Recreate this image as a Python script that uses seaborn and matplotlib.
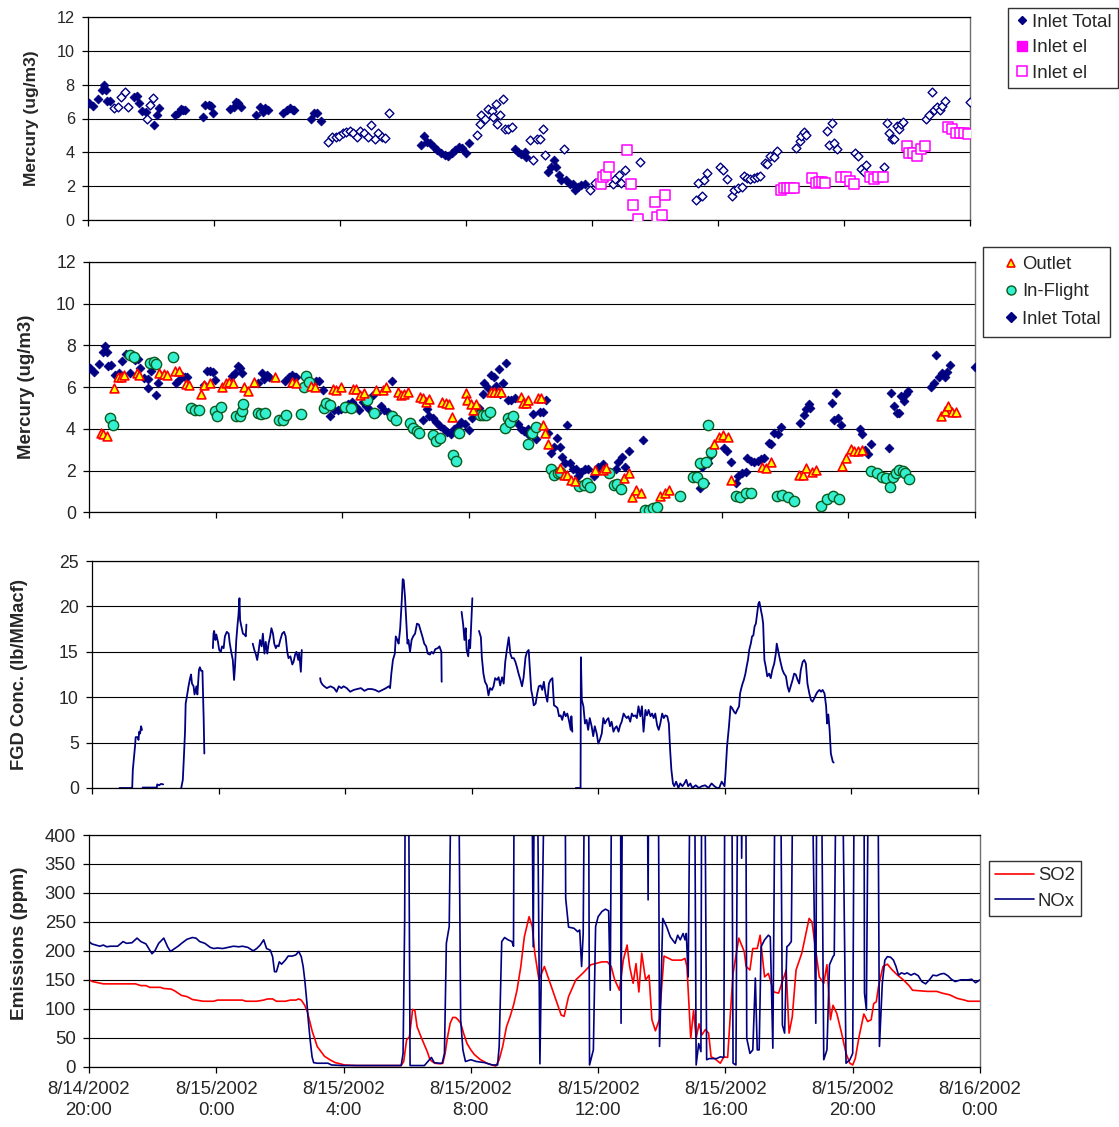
import numpy as np
import pandas as pd
import matplotlib
matplotlib.use("Agg")
import matplotlib.pyplot as plt
from matplotlib.lines import Line2D
import seaborn as sns

sns.set_style("white")
plt.rcParams['font.family'] = ['Liberation Sans', 'DejaVu Sans']

NAVY = '#000080'
MAGENTA = '#FF00FF'

# hours after 8/14/2002 20:00
tick_hours = [0, 4, 8, 12, 16, 20, 24, 28]
tick_labels = ['8/14/2002\n20:00', '8/15/2002\n0:00', '8/15/2002\n4:00', '8/15/2002\n8:00',
               '8/15/2002\n12:00', '8/15/2002\n16:00', '8/15/2002\n20:00', '8/16/2002\n0:00']

# ---- Inlet total mercury (filled / open diamonds in top panel)
inlet_fill_h = [0.03, 0.17, 0.32, 0.43, 0.51, 0.57, 0.60, 0.71, 1.45, 1.56, 1.62, 1.73, 1.85, 2.11, 2.19, 2.24,
                2.76, 2.86, 2.95, 3.03, 3.09, 3.64, 3.72, 3.83, 3.91, 3.98,
                4.51, 4.62, 4.70, 4.77, 4.85, 5.34, 5.46, 5.54, 5.62, 5.70,
                6.19, 6.31, 6.41, 6.50, 6.55, 7.09, 7.18, 7.27, 7.40,
                10.56, 10.67, 10.75, 10.86, 10.98, 11.09, 11.21, 11.32, 11.43, 11.54, 11.66, 11.77, 11.88, 12.0, 12.1,
                13.55, 13.66, 13.76, 13.87, 13.92,
                14.61, 14.71, 14.79, 14.87, 14.96, 15.03, 15.19, 15.29, 15.40, 15.45, 15.56, 15.66, 15.77]
inlet_fill_v = [6.9, 6.74, 7.13, 7.68, 7.98, 7.68, 7.03, 7.05, 7.29, 7.33, 6.94, 6.46, 6.40, 5.62, 6.20, 6.60,
                6.2, 6.34, 6.54, 6.5, 6.5, 6.1, 6.8, 6.8, 6.74, 6.34,
                6.54, 6.7, 7.0, 6.9, 6.7, 6.2, 6.66, 6.4, 6.6, 6.5,
                6.3, 6.5, 6.6, 6.5, 6.5, 6.0, 6.3, 6.3, 5.87,
                4.43, 4.97, 4.63, 4.53, 4.33, 4.14, 3.98, 3.84, 3.78, 3.98, 4.14, 4.33, 4.24, 3.94, 4.53,
                4.22, 4.02, 3.92, 4.02, 3.73,
                2.84, 3.14, 3.57, 3.14, 2.65, 2.35, 2.39, 2.10, 2.10, 1.76, 1.96, 2.06, 2.10]

inlet_open_h = [0.83, 0.94, 1.05, 1.17, 1.28, 1.87, 1.96, 2.05,
                7.63, 7.74, 7.86, 7.97, 8.08, 8.2, 8.31, 8.42, 8.54, 8.65, 8.76, 8.88, 8.99, 9.1, 9.22, 9.33, 9.44, 9.56,
                12.34, 12.44, 12.49, 12.6, 12.7, 12.81, 12.86, 12.95, 12.99, 13.08, 13.18, 13.24, 13.34, 13.45,
                14.03, 14.14, 14.24, 14.35, 14.43, 14.52, 15.11,
                15.95, 16.09, 16.24, 16.67, 16.73, 16.85, 16.93, 17.05, 17.51,
                19.3, 19.38, 19.48, 19.57, 19.66,
                20.07, 20.16, 20.28, 20.44, 20.52, 20.64, 20.76, 20.81, 20.92, 21.01, 21.13, 21.25, 21.34,
                21.48, 21.54, 21.65, 21.77, 21.86,
                22.48, 22.6, 22.65, 22.74, 22.79, 23.47, 23.53, 23.62, 23.67, 23.78,
                24.35, 24.43, 24.53, 24.62, 24.71, 25.28,
                25.35, 25.44, 25.52, 25.6, 25.67, 25.75, 25.81, 25.87,
                26.61, 26.7, 26.78, 26.86, 26.96, 27.04, 27.11, 27.2, 27.99]
inlet_open_v = [6.6, 6.66, 7.25, 7.59, 6.7, 5.95, 6.8, 7.23,
                4.63, 4.89, 4.93, 4.97, 5.12, 5.22, 5.28, 5.12, 4.93, 5.28, 5.12, 4.93, 5.62, 4.77, 5.12, 4.93, 4.83, 6.3,
                5.0, 5.69, 6.18, 5.98, 6.57, 6.47, 6.08, 6.86, 5.69, 6.18, 7.16, 5.4, 5.4, 5.5,
                4.7, 3.53, 4.8, 4.8, 5.39, 3.82, 4.18,
                1.76, 2.16, 2.31, 2.1, 2.42, 2.66, 2.2, 2.95, 3.45,
                1.18, 2.17, 1.42, 2.36, 2.76,
                3.11, 2.95, 2.4, 1.42, 1.77, 1.87, 1.93, 2.6, 2.46, 2.4, 2.46, 2.56, 2.6,
                3.35, 3.3, 3.8, 3.74, 4.1,
                4.28, 4.67, 4.98, 5.18, 5.02, 5.26, 4.43, 5.71, 4.53, 4.18,
                3.98, 3.78, 3.0, 2.82, 3.27, 3.11,
                5.71, 5.12, 4.77, 4.77, 5.56, 5.36, 5.67, 5.81,
                6.0, 6.2, 7.55, 6.5, 6.66, 6.5, 6.74, 7.05, 6.96]

# ---- Inlet elemental (open magenta squares)
inlet_el_h = [16.29, 16.35, 16.45, 16.55, 17.11, 17.23, 17.31, 17.45, 17.99, 18.07, 18.21, 18.31,
              22.0, 22.1, 22.2, 22.3, 22.42, 22.98, 23.1, 23.22, 23.31, 23.41,
              23.92, 24.06, 24.2, 24.33, 24.82, 24.94, 25.09, 25.23,
              25.99, 26.07, 26.19, 26.31, 26.44, 26.58,
              27.31, 27.44, 27.55, 27.69, 27.81, 27.93]
inlet_el_v = [2.13, 2.56, 2.66, 3.15, 4.14, 2.13, 0.89, 0.04, 1.04, 0.2, 0.3, 1.48,
              1.77, 1.87, 1.87, 1.87, 1.87, 2.46, 2.2, 2.26, 2.26, 2.2,
              2.56, 2.56, 2.33, 2.13, 2.56, 2.4, 2.56, 2.56,
              4.39, 3.98, 3.98, 3.8, 4.2, 4.37,
              5.52, 5.38, 5.16, 5.16, 5.16, 5.08]

# ---- Outlet mercury (triangles)
outlet_h = [0.37, 0.45, 0.57, 0.79, 0.91, 1.02, 1.11, 1.53, 1.59, 2.21, 2.36, 2.47, 2.72, 2.83, 3.06, 3.15,
            3.54, 3.65, 3.83, 4.19, 4.33, 4.44, 4.56, 4.9, 5.04, 5.21, 5.89, 6.4, 6.55, 7.0, 7.14,
            7.7, 7.82, 7.95, 8.33, 8.44, 8.55, 8.7, 9.07, 9.29, 9.38, 9.75, 9.86, 9.97, 10.08,
            10.45, 10.54, 10.65, 10.76, 11.16, 11.27, 11.37, 11.47, 11.9, 11.95, 12.07, 12.15, 12.24,
            12.69, 12.8, 12.91, 13.03, 13.65, 13.73, 13.82, 13.88, 14.19, 14.3, 14.36, 14.42, 14.5,
            14.89, 15.01, 15.12, 15.24, 15.36, 16.0, 16.23, 16.33, 16.91, 17.05, 17.17, 17.29, 17.43,
            18.06, 18.2, 18.32, 19.74, 19.92, 20.04, 20.19, 20.3, 21.26, 21.4, 21.56,
            22.43, 22.55, 22.67, 22.84, 22.96, 23.81, 23.93, 24.07, 24.19, 24.3, 24.42,
            26.94, 27.05, 27.15, 27.26, 27.4]
outlet_v = [3.79, 3.74, 3.66, 5.98, 6.5, 6.5, 6.57, 6.69, 6.58, 6.69, 6.63, 6.58, 6.77, 6.77, 6.15, 6.1,
            5.7, 6.1, 6.18, 6.02, 6.18, 6.26, 6.18, 6.02, 5.83, 6.26, 6.5, 6.26, 6.2, 6.06, 6.02,
            5.93, 5.86, 6.0, 5.91, 5.94, 5.63, 5.74, 5.86, 5.86, 6.02, 5.78, 5.63, 5.7, 5.78,
            5.55, 5.47, 5.27, 5.42, 5.27, 5.23, 5.2, 4.59, 5.74, 5.39, 5.2, 4.91, 5.2,
            5.78, 5.78, 5.78, 5.78, 5.55, 5.26, 5.23, 5.39, 5.47, 5.5, 4.19, 3.82, 3.28,
            2.12, 1.8, 1.8, 1.56, 1.53, 2.04, 2.04, 2.12, 1.64, 1.88, 0.73, 1.08, 0.92,
            0.8, 0.92, 1.08, 3.28, 3.63, 3.71, 3.63, 1.56, 2.2, 2.15, 2.44,
            1.8, 1.8, 2.15, 1.96, 2.04, 2.23, 2.6, 3.03, 2.95, 2.95, 3.0,
            4.62, 4.88, 5.1, 4.83, 4.83]

# ---- In-flight mercury (circles)
inflight_h = [0.66, 0.75, 1.3, 1.42, 1.93, 2.04, 2.12, 2.66,
              3.23, 3.34, 3.48, 3.97, 4.05, 4.16, 4.65, 4.76, 4.82, 4.87, 5.33, 5.44, 5.55, 6.0, 6.12, 6.23,
              6.69, 6.78, 6.86, 6.94, 7.42, 7.5, 7.61, 8.1, 8.29, 8.78, 9.01, 9.58, 9.69,
              10.14, 10.25, 10.36, 10.42, 10.88, 10.97, 11.08, 11.5, 11.61, 11.7,
              12.35, 12.45, 12.54, 12.66, 13.14, 13.23, 13.31, 13.39, 13.86, 14.0, 14.13,
              14.6, 14.71, 14.82, 14.9, 15.47, 15.63, 15.74, 15.82, 16.44, 16.58, 16.7, 16.82,
              17.58, 17.7, 17.81, 17.96, 18.69,
              19.1, 19.21, 19.3, 19.4, 19.49, 19.57, 19.65,
              20.44, 20.58, 20.77, 20.91, 21.73, 21.91, 22.08, 22.29, 23.13, 23.31, 23.51, 23.7,
              24.71, 24.89, 25.06, 25.18, 25.3, 25.42, 25.5, 25.59, 25.71, 25.8, 25.92]
inflight_v = [4.51, 4.19, 7.54, 7.43, 7.17, 7.22, 7.09, 7.43,
              4.99, 4.91, 4.93, 4.88, 4.64, 5.07, 4.62, 4.62, 4.88, 5.2, 4.78, 4.72, 4.78, 4.43, 4.43, 4.67,
              4.72, 6.02, 6.53, 6.26, 4.99, 5.23, 5.15, 5.07, 4.99, 5.39, 4.78, 4.62, 4.43,
              4.27, 4.03, 3.9, 3.82, 3.71, 3.44, 3.55, 2.76, 2.47, 3.79,
              4.67, 4.67, 4.67, 4.83, 4.03, 4.51, 4.35, 4.62, 3.28, 3.79, 4.08,
              2.07, 1.8, 1.88, 1.96, 1.27, 1.32, 1.43, 1.24, 1.88, 1.32, 1.36, 1.12,
              0.1, 0.12, 0.21, 0.25, 0.8,
              1.72, 1.69, 2.36, 1.43, 2.44, 4.19, 2.92,
              0.8, 0.73, 0.92, 0.92, 0.8, 0.84, 0.73, 0.53, 0.32, 0.64, 0.8, 0.65,
              2.01, 1.88, 1.72, 1.64, 1.2, 1.69, 1.88, 2.04, 1.99, 1.88, 1.59]

# ---- FGD concentration (the record has gaps; each gap starts a new segment)
fgd_h = [0.87, 1.27, 1.29, 1.36, 1.38, 1.44, 1.47, 1.49, 1.52, 1.55, 1.58,
         1.6, 2.05, 2.06, 2.12, 2.18, 2.25,
         2.82, 2.87, 2.9, 2.94, 2.96, 3.0, 3.05, 3.1, 3.13, 3.16, 3.21, 3.24, 3.3, 3.33, 3.38, 3.41, 3.45, 3.49, 3.53, 3.55,
         3.82, 3.84, 3.86, 3.9, 3.93, 3.98, 4.02, 4.07, 4.11, 4.16, 4.2, 4.26, 4.32, 4.35, 4.41, 4.45, 4.49, 4.52,
         4.56, 4.6, 4.63, 4.66, 4.68, 4.72, 4.77, 4.82, 4.86, 4.88,
         5.08, 5.13, 5.18, 5.22, 5.27, 5.31, 5.36, 5.4, 5.45, 5.49, 5.54, 5.58, 5.63, 5.67, 5.72, 5.76, 5.81, 5.85,
         5.9, 5.95, 6.01, 6.07, 6.12, 6.17, 6.21, 6.27, 6.33, 6.37, 6.42, 6.46, 6.52, 6.55, 6.6, 6.63,
         7.21, 7.23, 7.28, 7.34, 7.42, 7.54, 7.65, 7.73, 7.8, 7.88, 7.95, 8.05, 8.16, 8.27, 8.38, 8.5, 8.61, 8.72,
         8.84, 8.95, 9.06, 9.18, 9.29, 9.38, 9.42, 9.46, 9.51, 9.57, 9.6, 9.65, 9.69, 9.74, 9.79, 9.82, 9.85, 9.89,
         9.93, 9.97, 10.0, 10.05, 10.1, 10.15, 10.21, 10.27, 10.33, 10.38, 10.44, 10.5, 10.56, 10.61, 10.68, 10.73,
         10.79, 10.85, 10.93, 10.98, 11.04, 11.05,
         11.68, 11.73, 11.77, 11.81, 11.84, 11.89, 11.92, 11.95, 11.99, 12.02,
         12.23, 12.29, 12.32, 12.37, 12.42, 12.48, 12.53, 12.58, 12.64, 12.69, 12.74, 12.8, 12.85, 12.9, 12.96,
         13.01, 13.06, 13.11, 13.17, 13.22, 13.27, 13.33, 13.38, 13.43, 13.48, 13.54, 13.59, 13.64, 13.7, 13.75,
         13.8, 13.84, 13.88, 13.92, 13.96, 14.02, 14.07, 14.12, 14.18, 14.23, 14.28, 14.33, 14.39, 14.44, 14.49,
         14.55, 14.6, 14.65, 14.71, 14.76, 14.81, 14.86, 14.92, 14.97, 15.02, 15.07, 15.13, 15.15, 15.18,
         15.29, 15.44, 15.45, 15.48, 15.53, 15.58, 15.63, 15.68, 15.73, 15.79, 15.84, 15.89, 15.95, 16.0, 16.05,
         16.11, 16.16, 16.21, 16.27, 16.32, 16.37, 16.42, 16.48, 16.53, 16.58, 16.64, 16.69, 16.74, 16.8, 16.85,
         16.9, 16.95, 17.01, 17.06, 17.11, 17.17, 17.22, 17.27, 17.33, 17.38, 17.43, 17.49, 17.54, 17.59, 17.65,
         17.7, 17.75, 17.8, 17.86, 17.91, 17.96, 18.02, 18.07, 18.12, 18.18, 18.23, 18.27, 18.31, 18.36, 18.4,
         18.46, 18.53, 18.59, 18.66, 18.72, 18.78, 18.84, 18.91, 18.97, 19.08, 19.18, 19.27, 19.38, 19.48, 19.58,
         19.67, 19.75, 19.82, 19.9, 19.99,
         20.02, 20.07, 20.13, 20.18, 20.23, 20.29, 20.34, 20.39, 20.45, 20.48, 20.52, 20.56, 20.6, 20.65, 20.69,
         20.73, 20.77, 20.82, 20.86, 20.9, 20.94, 20.98, 21.02, 21.06, 21.09, 21.12, 21.15, 21.18, 21.21, 21.25,
         21.29, 21.34, 21.4, 21.45, 21.5, 21.56, 21.61, 21.64, 21.68, 21.72, 21.77, 21.82, 21.87, 21.93, 21.98,
         22.03, 22.08, 22.14, 22.19, 22.24, 22.3, 22.35, 22.4, 22.46, 22.51, 22.56, 22.61, 22.67, 22.72, 22.77,
         22.83, 22.88, 22.93, 22.99, 23.04, 23.09, 23.15, 23.2, 23.23, 23.27, 23.31, 23.35, 23.41, 23.44]
fgd_v = [0, 0, 2.0, 4.6, 5.6, 5.6, 5.3, 6.2, 6.0, 6.8, 6.4,
         0.05, 0.05, 0.4, 0.3, 0.45, 0.4,
         0, 0.9, 3.1, 6.2, 9.3, 10.1, 11.2, 12.1, 12.5, 11.5, 11.2, 10.3, 11.2, 10.3, 13.0, 13.3, 12.9, 12.9, 7.5, 3.8,
         15.4, 17.0, 17.3, 16.3, 16.9, 16.1, 15.2, 15.0, 15.6, 15.4, 16.7, 17.2, 17.0, 16.0, 14.8, 14.1, 11.9, 13.4,
         16.3, 18.0, 19.1, 20.9, 18.5, 17.8, 17.0, 16.9, 16.7, 18.0,
         15.9, 15.2, 14.7, 14.1, 15.2, 16.3, 15.6, 17.0, 14.8, 16.1, 14.8, 15.9, 16.7, 17.6, 17.0, 15.9, 15.4, 15.7,
         15.6, 16.3, 17.0, 17.2, 16.7, 15.0, 14.3, 14.5, 13.6, 13.9, 14.7, 15.0, 14.1, 14.8, 12.8, 15.2,
         12.1, 11.7, 11.4, 11.2, 11.0, 11.2, 11.0, 10.6, 11.2, 11.0, 11.2, 11.0, 10.6, 10.8, 10.9, 11.0, 10.7, 10.9,
         10.9, 10.8, 10.6, 10.8, 11.0, 11.2, 11.0, 12.6, 14.1, 14.8, 16.7, 16.3, 15.9, 17.6, 20.7, 23.0, 22.9, 21.1,
         18.5, 15.9, 16.3, 15.0, 16.3, 16.7, 17.0, 18.1, 18.0, 17.4, 16.7, 15.9, 15.6, 14.8, 14.7, 15.0,
         14.8, 15.3, 15.4, 15.6, 15.0, 11.7,
         19.4, 18.0, 16.3, 17.6, 15.2, 14.5, 16.3, 15.4, 18.5, 20.9,
         17.3, 16.6, 14.4, 12.6, 11.7, 11.3, 10.2, 11.0, 10.8, 11.2, 12.1, 11.9, 12.2, 11.3, 12.2,
         11.5, 13.9, 15.2, 16.6, 14.8, 14.3, 14.3, 13.9, 13.3, 12.6, 11.9, 11.2, 12.2, 14.4, 15.0,
         15.2, 13.0, 10.8, 10.1, 9.1, 9.3, 10.4, 11.2, 11.3, 10.8, 11.7, 10.4, 9.5, 11.5, 11.9,
         12.1, 9.1, 9.0, 8.8, 7.9, 8.0, 7.5, 8.4, 7.9, 8.2, 7.5, 6.4, 7.9, 6.2,
         0, 0, 14.4, 9.7, 9.0, 7.1, 7.5, 6.4, 7.7, 6.8, 5.7, 6.8, 6.0, 4.9, 5.3,
         6.0, 7.7, 7.1, 7.5, 7.7, 6.8, 7.3, 6.2, 6.6, 6.8, 6.2, 6.9, 7.3, 8.2, 7.9,
         7.7, 7.9, 7.3, 8.2, 7.9, 8.0, 7.7, 9.0, 7.9, 9.0, 6.2, 8.6, 8.0, 8.6, 7.9,
         8.2, 7.7, 8.2, 6.9, 6.4, 7.1, 8.2, 7.7, 8.0, 7.9, 7.1, 4.2, 2.0, 0.5, 0.2,
         0.7, 0.0, 0.5, 0.2, 0.5, 0.9, 0.2, 0.5, 0.0, 0.3, 0.0, 0.2, 0.3, 0.0, 0.5,
         0.2, 0.0, 0.0, 0.7, 0.2,
         1.6, 4.6, 6.8, 9.0, 8.8, 8.4, 8.2, 8.6, 9.0, 10.4, 11.0, 11.5, 11.9, 12.6, 13.4,
         14.1, 15.2, 15.9, 16.7, 16.8, 17.8, 18.1, 19.2, 20.3, 20.5, 20.0, 19.4, 18.9, 18.1, 14.1,
         13.4, 12.3, 12.6, 12.1, 13.0, 13.7, 14.8, 15.9, 15.2, 14.5, 13.7, 13.0, 12.6, 12.3, 11.2,
         10.6, 11.2, 11.9, 12.6, 12.5, 11.9, 11.5, 13.0, 13.9, 14.1, 13.7, 11.5, 10.4, 9.7, 9.5,
         9.9, 10.3, 10.6, 10.8, 10.6, 10.8, 10.4, 9.0, 7.1, 8.1, 6.4, 3.8, 2.9, 2.8]
# hour at which each new segment of the FGD record begins
fgd_segment_starts = [1.6, 2.82, 3.82, 5.08, 7.21, 11.68, 12.23, 15.29]

# ---- Stack emissions
so2_h = [0, 0.11, 0.45, 0.9, 1.46, 1.63, 1.79, 1.91, 2.24, 2.35, 2.58, 2.69, 2.8, 2.91, 3.08, 3.25, 3.59, 3.92,
         4.04, 4.48, 4.82, 4.93, 5.27, 5.49, 5.61, 5.77, 5.89, 6.17, 6.33, 6.5, 6.59, 6.67, 6.78, 6.86, 6.95,
         7.02, 7.09, 7.17, 7.29, 7.4, 7.57, 7.74, 7.9, 8.02, 8.41, 8.97, 9.53, 9.81, 9.89, 9.98, 10.07, 10.17,
         10.24, 10.31, 10.43, 10.56, 10.63, 10.71, 10.78, 10.87, 11.04, 11.12, 11.19, 11.27, 11.35, 11.43,
         11.52, 11.6, 11.68, 11.77, 11.88, 12.0, 12.11, 12.28, 12.5, 12.78, 12.89, 13.0, 13.12, 13.23, 13.34,
         13.45, 13.57, 13.68, 13.83, 13.93, 14.01, 14.14, 14.31, 14.6, 14.84, 14.93, 15.07, 15.3, 15.53, 15.77,
         16.12, 16.29, 16.41, 16.52, 16.67, 16.79, 16.91, 16.99, 17.1, 17.19, 17.28, 17.37, 17.49, 17.6, 17.69,
         17.8, 17.92, 18.07, 18.33, 18.62, 18.73, 18.79, 18.91, 19.0, 19.08, 19.17, 19.26, 19.37, 19.47, 19.55,
         19.66, 19.84, 19.95, 20.07, 20.16, 20.24, 20.42, 20.59, 20.65, 20.77, 20.86, 21.0, 21.09, 21.23, 21.35,
         21.52, 21.67, 21.81, 21.91, 22.0, 22.1, 22.22, 22.4, 22.63, 22.72, 22.84, 22.95, 23.09, 23.19, 23.3,
         23.38, 23.5, 23.65, 23.79, 23.91, 24.0, 24.08, 24.2, 24.35, 24.47, 24.58, 24.66, 24.74, 24.81, 24.95,
         25.09, 25.24, 25.41, 25.59, 25.77, 25.88, 26.12, 26.35, 26.64, 26.81, 27.05, 27.28, 27.51, 27.63, 28.0]
so2_v = [150, 147, 143, 143, 143, 140, 140, 137, 137, 135, 134, 131, 127, 123, 121, 116, 113, 113,
         115, 115, 115, 113, 113, 115, 117, 117, 113, 113, 115, 115, 117, 115, 106, 95, 75,
         60, 49, 35, 26, 18, 12, 7, 5, 3, 2, 2, 2, 2, 9, 46, 52, 99,
         97, 69, 52, 35, 26, 13, 9, 6, 5, 6, 23, 52, 75, 85,
         85, 81, 75, 58, 40, 29, 21, 13, 6, 1, 12, 35, 69, 86, 106,
         132, 173, 224, 259, 242, 196, 150, 173, 127, 89, 87, 121, 150, 162, 176,
         181, 181, 173, 150, 132, 184, 210, 173, 144, 178, 129, 196, 150, 158, 81,
         62, 81, 191, 184, 184, 187, 173, 49, 98, 49, 74, 55, 64, 58, 17,
         14, 6, 17, 16, 95, 161, 222, 199, 173, 167, 204, 204, 227, 155, 161,
         129, 127, 150, 167, 58, 86, 167, 196, 256, 250, 201, 155, 144, 176, 81,
         106, 92, 58, 23, 6, 3, 14, 52, 91, 78, 81, 109, 112, 138, 173,
         177, 167, 158, 150, 140, 132, 131, 130, 130, 127, 124, 118, 115, 113, 113]

nox_h = [0, 0.09, 0.22, 0.34, 0.45, 0.56, 0.67, 0.9, 1.07, 1.18, 1.35, 1.51, 1.63, 1.79, 1.91, 1.98, 2.07,
         2.19, 2.35, 2.47, 2.56, 2.69, 2.8, 2.91, 3.08, 3.25, 3.36, 3.48, 3.64, 3.81, 3.92, 4.04, 4.2, 4.37,
         4.54, 4.71, 4.82, 4.99, 5.16, 5.27, 5.38, 5.49, 5.58, 5.7, 5.77, 5.83, 5.89, 5.98, 6.05, 6.17, 6.26,
         6.39, 6.5, 6.59, 6.67, 6.73, 6.78, 6.84, 6.89, 6.95, 7.01, 7.06, 7.17, 7.51, 7.62, 7.96, 8.41, 8.97,
         9.53, 9.81, 9.87, 9.92, 9.95, 10.03, 10.09, 10.31, 10.54, 10.65, 10.76, 10.85, 10.99, 11.1, 11.17,
         11.23, 11.32, 11.41, 11.6, 11.68, 11.75, 11.83, 12.0, 12.17, 12.44, 12.67, 12.84, 12.89, 12.97, 13.06,
         13.17, 13.29, 13.34, 13.37, 13.9, 13.96, 14.01, 14.07, 14.17, 14.35, 14.95, 14.98, 15.07, 15.24, 15.36,
         15.42, 15.48, 15.53, 15.59, 15.69, 15.73, 15.85, 15.92, 16.0, 16.12, 16.23, 16.33, 16.38, 16.44, 16.7,
         16.72, 16.78, 17.53, 17.57, 17.6, 17.88, 17.93, 18.03, 18.15, 18.27, 18.42, 18.5, 18.58, 18.67, 18.73,
         18.77, 18.83, 18.91, 19.02, 19.08, 19.16, 19.23, 19.26, 19.34, 19.41, 19.49, 19.6, 19.72, 19.84, 19.95,
         19.99, 20.19, 20.24, 20.33, 20.4, 20.48, 20.51, 20.56, 20.63, 20.67, 20.77, 20.86, 20.94, 21.0, 21.06,
         21.12, 21.23, 21.35, 21.41, 21.49, 21.58, 21.72, 21.79, 21.86, 21.93, 21.99, 22.07, 22.14, 22.69, 22.84,
         22.88, 23.0, 23.09, 23.19, 23.27, 23.38, 23.42, 23.5, 23.65, 23.79, 23.91, 24.0, 24.06, 24.35, 24.37,
         24.43, 24.51, 24.78, 24.84, 24.93, 25.01, 25.09, 25.19, 25.28, 25.36, 25.44, 25.53, 25.63, 25.71, 25.83,
         25.94, 26.06, 26.17, 26.29, 26.41, 26.52, 26.64, 26.76, 26.87, 26.99, 27.1, 27.22, 27.4, 27.63, 27.74,
         27.86, 28.0]
nox_v = [216, 212, 210, 208, 210, 207, 208, 208, 216, 213, 214, 222, 216, 212, 201, 195, 200,
         213, 222, 207, 199, 204, 208, 213, 220, 223, 222, 216, 213, 206, 204, 205, 204, 206,
         208, 207, 208, 206, 200, 204, 210, 219, 204, 201, 190, 164, 164, 181, 177, 184, 191,
         191, 193, 199, 190, 173, 150, 115, 81, 46, 17, 7, 6, 6, 3, 2, 2, 2,
         2, 2, 23, 253, 650, 650, 2, 2, 2, 9, 16, 7, 6, 6, 23,
         213, 242, 650, 650, 81, 29, 9, 12, 9, 7, 3, 3, 35, 216, 223,
         219, 216, 208, 650, 650, 207, 650, 650, 5, 650, 650, 291, 241, 239, 233,
         236, 173, 230, 650, 650, 3, 29, 242, 259, 268, 272, 269, 132, 650, 650,
         75, 650, 650, 288, 650, 650, 35, 256, 242, 224, 213, 227, 219, 230, 219,
         230, 155, 650, 650, 3, 40, 26, 650, 650, 12, 14, 14, 14, 17, 16,
         650, 650, 6, 3, 650, 650, 360, 650, 650, 49, 23, 29, 153, 29, 29,
         207, 219, 227, 224, 32, 650, 650, 72, 58, 207, 210, 216, 650, 650, 75,
         650, 650, 12, 29, 176, 190, 193, 650, 650, 6, 12, 23, 650, 650, 127,
         98, 650, 650, 35, 144, 184, 190, 189, 184, 173, 158, 162, 160, 162, 158,
         161, 157, 147, 143, 150, 158, 157, 160, 161, 157, 151, 147, 150, 150, 151,
         145, 150]

W, H = 1119, 1127
fig = plt.figure(figsize=(W / 100, H / 100), dpi=100)


def panel(left, top, right, bottom):
    return fig.add_axes([left / W, 1 - bottom / H, (right - left) / W, (bottom - top) / H])


def style(ax, ymax, ystep, tick_fs, label, label_fs, lab_x, lab_y=0.5, xlabels=False):
    ax.set_xlim(0, 28)
    ax.set_ylim(0, ymax)
    ax.set_xticks(tick_hours)
    ax.set_yticks(np.arange(0, ymax + ystep / 2, ystep))
    ax.grid(axis='y', color='black', linewidth=0.8)
    ax.grid(axis='x', visible=False)
    ax.set_axisbelow(True)
    for side in ['left', 'bottom', 'top']:
        ax.spines[side].set_color('black')
        ax.spines[side].set_linewidth(0.9)
    ax.spines['right'].set_color('#707070')
    ax.spines['right'].set_linewidth(1.0)
    ax.tick_params(axis='both', direction='out', length=4.5, width=0.9, color='black',
                   labelsize=tick_fs, pad=5, left=True, bottom=True)
    if xlabels:
        ax.set_xticklabels(tick_labels, fontsize=13.4, linespacing=1.25)
        ax.tick_params(axis='x', pad=6)
    else:
        ax.set_xticklabels([])
    ax.set_xlabel('')
    ax.set_ylabel(label, fontsize=label_fs, fontweight='bold')
    ax.yaxis.set_label_coords(lab_x, lab_y)


# ---------------- Panel 1: inlet mercury
ax1 = panel(88, 17, 970, 220)
sns.scatterplot(x=inlet_fill_h, y=inlet_fill_v, marker='D', s=20, color=NAVY, edgecolor=NAVY,
                linewidth=0.6, ax=ax1, legend=False, zorder=3)
sns.scatterplot(x=inlet_open_h, y=inlet_open_v, marker='D', s=20, facecolor='white', edgecolor=NAVY,
                linewidth=1.0, ax=ax1, legend=False, zorder=3)
sns.scatterplot(x=inlet_el_h, y=inlet_el_v, marker='s', s=42, facecolor='white', edgecolor=MAGENTA,
                linewidth=1.1, ax=ax1, legend=False, zorder=4)
style(ax1, 12, 2, 11.7, 'Mercury (ug/m3)', 12.5, -0.0556)
h1 = [Line2D([], [], ls='none', marker='D', ms=4.5, mfc=NAVY, mec=NAVY),
      Line2D([], [], ls='none', marker='s', ms=6.5, mfc=MAGENTA, mec=MAGENTA),
      Line2D([], [], ls='none', marker='s', ms=6.5, mfc='white', mec=MAGENTA, mew=1.1)]
leg1 = ax1.legend(h1, ['Inlet Total', 'Inlet el', 'Inlet el'], loc='upper left',
                  bbox_to_anchor=(1008 / W, 1 - 8 / H), bbox_transform=fig.transFigure,
                  fontsize=13.5, frameon=True, fancybox=False, borderpad=0.3, handlelength=0.9,
                  handletextpad=0.1, labelspacing=0.45, borderaxespad=0)
leg1.get_frame().set_edgecolor('black')
leg1.get_frame().set_linewidth(1.0)

# ---------------- Panel 2: outlet / in-flight / inlet mercury
ax2 = panel(89, 262, 975, 512.5)
sns.scatterplot(x=inlet_fill_h + inlet_open_h, y=inlet_fill_v + inlet_open_v, marker='D', s=20,
                color=NAVY, edgecolor=NAVY, linewidth=0.6, ax=ax2, legend=False, zorder=3)
sns.scatterplot(x=inflight_h, y=inflight_v, marker='o', s=55, facecolor='#33F0D0', edgecolor='#0B5A1E',
                linewidth=1.0, ax=ax2, legend=False, zorder=4)
sns.scatterplot(x=outlet_h, y=outlet_v, marker='^', s=40, facecolor='#FFFF00', edgecolor='#FF0000',
                linewidth=1.2, ax=ax2, legend=False, zorder=5)
style(ax2, 12, 2, 12.7, 'Mercury (ug/m3)', 13.4, -0.061)
h2 = [Line2D([], [], ls='none', marker='^', ms=6, mfc='#FFFF00', mec='#FF0000', mew=1.2),
      Line2D([], [], ls='none', marker='o', ms=6.5, mfc='#33F0D0', mec='#0B5A1E', mew=1.0),
      Line2D([], [], ls='none', marker='D', ms=5, mfc=NAVY, mec=NAVY)]
leg2 = ax2.legend(h2, ['Outlet', 'In-Flight', 'Inlet Total'], loc='upper left',
                  bbox_to_anchor=(983 / W, 1 - 247 / H), bbox_transform=fig.transFigure,
                  fontsize=13.3, frameon=True, fancybox=False, borderpad=0.5, handlelength=2.0,
                  handletextpad=-0.4, labelspacing=0.55, borderaxespad=0)
leg2.get_frame().set_edgecolor('black')
leg2.get_frame().set_linewidth(1.0)

# ---------------- Panel 3: FGD concentration
ax3 = panel(92, 561, 978, 788)
fgd = pd.DataFrame({'hour': fgd_h, 'conc': fgd_v})
fgd['seg'] = np.searchsorted(fgd_segment_starts, fgd['hour'], side='right')
sns.lineplot(data=fgd, x='hour', y='conc', units='seg', estimator=None, sort=False, color=NAVY,
             linewidth=1.3, ax=ax3, legend=False)
style(ax3, 25, 5, 12.7, 'FGD Conc. (lb/MMacf)', 13.2, -0.0722)

# ---------------- Panel 4: emissions
ax4 = panel(89, 835, 980, 1066.7)
sns.lineplot(x=so2_h, y=so2_v, estimator=None, sort=False, color='#FF0000', linewidth=1.2, ax=ax4)
sns.lineplot(x=nox_h, y=nox_v, estimator=None, sort=False, color=NAVY, linewidth=1.2, ax=ax4)
style(ax4, 400, 50, 13.4, 'Emissions (ppm)', 13.7, -0.0685, lab_y=0.532, xlabels=True)
h4 = [Line2D([], [], color='#FF0000', lw=1.2), Line2D([], [], color=NAVY, lw=1.2)]
leg4 = ax4.legend(h4, ['SO2', 'NOx'], loc='upper left',
                  bbox_to_anchor=(989 / W, 1 - 861 / H), bbox_transform=fig.transFigure,
                  fontsize=13.3, frameon=True, fancybox=False, borderpad=0.35, handlelength=2.1,
                  handletextpad=0.2, labelspacing=0.45, borderaxespad=0)
leg4.get_frame().set_edgecolor('black')
leg4.get_frame().set_linewidth(1.0)

fig.savefig('out.png', dpi=100)
